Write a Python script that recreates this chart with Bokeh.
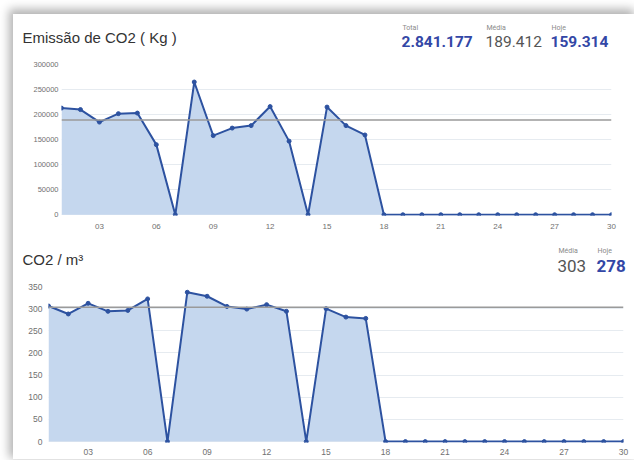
from bokeh.plotting import figure
from bokeh.layouts import column
from bokeh.models import FixedTicker, Span, Label, Range1d
from bokeh.embed import file_html
from bokeh.resources import INLINE

# ---------------- data ----------------
days = list(range(1, 31))
emissao = [213000, 210000, 185000, 201863, 203000, 140000, 0, 265000, 158000, 173000,
           178000, 216000, 147000, 0, 215000, 178000, 159314, 0, 0, 0,
           0, 0, 0, 0, 0, 0, 0, 0, 0, 0]
co2_m3 = [306, 288, 312, 294, 296, 322, 0, 337, 328, 305,
          299, 309, 294, 0, 300, 281, 278, 0, 0, 0,
          0, 0, 0, 0, 0, 0, 0, 0, 0, 0]
x_ticks = [3, 6, 9, 12, 15, 18, 21, 24, 27, 30]
x_tick_labels = ["03", "06", "09", "12", "15", "18", "21", "24", "27", "30"]
y1_ticks = [0, 50000, 100000, 150000, 200000, 250000, 300000]
y1_tick_labels = ["0", "50000", "100000", "150000", "200000", "250000", "300000"]
y2_ticks = [0, 50, 100, 150, 200, 250, 300, 350]
y2_tick_labels = ["0", "50", "100", "150", "200", "250", "300", "350"]
media1 = 189412
media2 = 303
title1 = "Emissão de CO2 ( Kg )"
title2 = "CO2 / m³"
stats1 = [("Total", "2.841.177"), ("Média", "189.412"), ("Hoje", "159.314")]
stats2 = [("Média", "303"), ("Hoje", "278")]

LINE = "#2d52a0"
FILL = "#c5d7ee"
BLUE_TXT = "#3347a6"
GRAY_TXT = "#555555"
CARD_W = 621


def header_fig(height):
    h = figure(width=CARD_W, height=height, output_backend="svg", toolbar_location=None,
               x_range=Range1d(0, CARD_W), y_range=Range1d(height, 0),
               x_axis_type=None, y_axis_type=None)
    h.min_border = 0
    h.frame_align = False
    h.outline_line_color = None
    h.background_fill_color = "white"
    h.border_fill_color = "white"
    return h


def add_text(p, x, y, text, size, color, style="normal", font="Roboto"):
    p.add_layout(Label(x=x, y=y, text=text,
                       text_font=font, text_font_size=size, text_color=color,
                       text_font_style=style, text_baseline="middle", text_align="left"))


def chart_fig(height, y_start, y_end, left, right, top, bottom):
    p = figure(width=CARD_W, height=height, output_backend="svg", toolbar_location=None,
               x_range=Range1d(1, 30), y_range=Range1d(y_start, y_end))
    p.frame_align = False
    p.min_border = 0
    p.min_border_left = left
    p.min_border_right = right
    p.min_border_top = top
    p.min_border_bottom = bottom
    p.outline_line_color = None
    p.background_fill_color = "white"
    p.border_fill_color = "white"
    p.xgrid.grid_line_color = None
    p.ygrid.grid_line_color = "#e6ebf0"
    p.ygrid.grid_line_width = 1
    for ax in (p.xaxis[0], p.yaxis[0]):
        ax.axis_line_color = None
        ax.major_tick_line_color = None
        ax.minor_tick_line_color = None
        ax.major_tick_out = 0
        ax.major_tick_in = 0
        ax.major_label_text_color = "#707070"
        ax.major_label_text_font = "Liberation Sans"
    p.xaxis[0].ticker = FixedTicker(ticks=x_ticks)
    p.xaxis[0].major_label_overrides = {t: l for t, l in zip(x_ticks, x_tick_labels)}
    return p


def add_series(p, ys, media):
    p.varea(x=days, y1=[0] * len(days), y2=ys, fill_color=FILL, fill_alpha=1.0)
    p.add_layout(Span(location=media, dimension="width", line_color="#9a9a9a", line_width=1.5))
    p.line(days, ys, line_color=LINE, line_width=2)
    p.scatter(days, ys, size=4, fill_color=LINE, line_color=LINE)


# ---------------- top block ----------------
h1 = header_fig(42)
add_text(h1, 9, 23, title1, "15px", "#333333", font="Liberation Sans")
for (lab, val), sx in zip(stats1, [389, 473, 538]):
    add_text(h1, sx, 13, lab, "7px", "#8a8a8a")
    is_media = lab == "Média"
    add_text(h1, sx - 1, 27, val, "15.5px", GRAY_TXT if is_media else BLUE_TXT,
             style="normal" if is_media else "bold")

p1 = chart_fig(179, -1500, 300000, 48, 23, 8, 20)
p1.yaxis[0].ticker = FixedTicker(ticks=y1_ticks)
p1.yaxis[0].major_label_overrides = {t: l for t, l in zip(y1_ticks, y1_tick_labels)}
p1.yaxis[0].major_label_text_font_size = "7.5px"
p1.xaxis[0].major_label_text_font_size = "8px"
p1.yaxis[0].major_label_standoff = 3
p1.xaxis[0].major_label_standoff = 8
add_series(p1, emissao, media1)

# ---------------- bottom block ----------------
h2 = header_fig(43)
add_text(h2, 9, 24, title2, "15px", "#333333", font="Liberation Sans")
for (lab, val), sx in zip(stats2, [545, 584]):
    add_text(h2, sx, 15, lab, "7px", "#8a8a8a")
    is_media = lab == "Média"
    add_text(h2, sx - 1, 30, val, "17px", GRAY_TXT if is_media else BLUE_TXT,
             style="normal" if is_media else "bold")

p2 = chart_fig(181, -2, 350, 35, 11, 8, 17)
p2.yaxis[0].ticker = FixedTicker(ticks=y2_ticks)
p2.yaxis[0].major_label_overrides = {t: l for t, l in zip(y2_ticks, y2_tick_labels)}
p2.yaxis[0].major_label_text_font_size = "8.5px"
p2.xaxis[0].major_label_text_font_size = "8.5px"
p2.yaxis[0].major_label_standoff = 6
p2.xaxis[0].major_label_standoff = 6
add_series(p2, co2_m3, media2)

layout = column(h1, p1, h2, p2, spacing=0, margin=(14, 0, 0, 13),
                styles={"box-shadow": "-2px -3px 9px 2px rgba(0,0,0,0.30)",
                        "background-color": "white"})
open("out.html", "w").write(file_html(layout, INLINE))
